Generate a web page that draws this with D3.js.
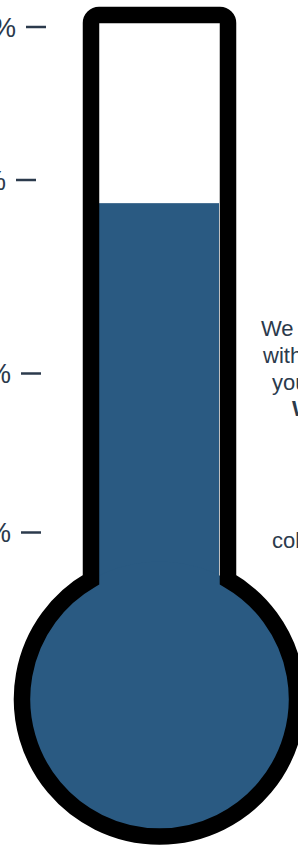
<!DOCTYPE html>
<html>
<head>
<meta charset="utf-8">
<script src="https://cdn.jsdelivr.net/npm/d3@7"></script>
<style>
  html, body { margin: 0; padding: 0; background: #fff; overflow: hidden; }
  svg { display: block; }
  .tick text { font-family: "Liberation Sans", Arial, sans-serif; font-size: 27px; fill: #2b3a4c; }
  .tick line { stroke: #2b3a4c; stroke-width: 2.5; }
  .note { font-family: "Liberation Sans", Arial, sans-serif; font-size: 22px; fill: #2b3a4c; }
</style>
</head>
<body>
<svg id="chart" width="298" height="848"></svg>
<script>
// Thermometer goal chart

const tickValues = [100, 75, 50, 25];
const raised = 72;            // percent of goal reached
const noteLines = ["We have reached", "with the help of", "you, our friends.", "Well done!", "collected so far"];
const noteBold = [false, false, false, true, false];

const width = 298, height = 848;
const svg = d3.select('#chart');

// piecewise scale so the ticks sit where they are on the poster
const y = d3.scaleLinear()
  .domain([25, 50, 75, 100])
  .range([532, 373, 180, 27]);

// tube + bulb geometry (stroke centerline)
const tubeL = 91, tubeR = 228, tubeTop = 15, corner = 8;
const bulbCx = 159.5, bulbCy = 699, bulbR = 137.5;
const stroke = 16.5;
const joinDy = Math.sqrt(bulbR * bulbR - (tubeL - bulbCx) * (tubeL - bulbCx));
const joinY = bulbCy - joinDy;

// mercury
svg.append('rect')
  .attr('x', tubeL)
  .attr('y', y(raised))
  .attr('width', 219 - tubeL)
  .attr('height', bulbCy - y(raised))
  .attr('fill', '#2a5a82');

svg.append('circle')
  .attr('cx', bulbCx)
  .attr('cy', bulbCy)
  .attr('r', bulbR)
  .attr('fill', '#2a5a82');

// outline
const p = d3.path();
p.moveTo(tubeL, joinY);
p.lineTo(tubeL, tubeTop + corner);
p.arcTo(tubeL, tubeTop, tubeL + corner, tubeTop, corner);
p.lineTo(tubeR - corner, tubeTop);
p.arcTo(tubeR, tubeTop, tubeR, tubeTop + corner, corner);
p.lineTo(tubeR, joinY);
const a0 = Math.atan2(joinY - bulbCy, tubeR - bulbCx);
const a1 = Math.atan2(joinY - bulbCy, tubeL - bulbCx);
p.arc(bulbCx, bulbCy, bulbR, a0, a1 + 2 * Math.PI, false);
p.closePath();

svg.append('path')
  .attr('d', p.toString())
  .attr('fill', 'none')
  .attr('stroke', '#000')
  .attr('stroke-width', stroke)
  .attr('stroke-linejoin', 'miter');

// percentage ticks on the left
const axis = svg.append('g')
  .attr('transform', 'translate(41,0)')
  .call(d3.axisLeft(y).tickValues(tickValues).tickSize(20).tickPadding(10).tickFormat(d => d + '%'));
axis.select('.domain').remove();
axis.selectAll('.tick text').attr('dy', '0.36em');
// hand nudges as on the original artwork
axis.selectAll('.tick').filter(d => d === 100).attr('transform', d => `translate(5,${y(d)})`);
axis.selectAll('.tick').filter(d => d === 75).attr('transform', d => `translate(-5,${y(d)})`);

// note text running off the right edge
const noteX = [261, 263, 272, 292, 272];
const noteY = [336, 363, 390, 416, 548];
svg.selectAll('text.note')
  .data(noteLines)
  .enter()
  .append('text')
  .attr('class', 'note')
  .attr('x', (d, i) => noteX[i])
  .attr('y', (d, i) => noteY[i])
  .attr('font-weight', (d, i) => noteBold[i] ? 'bold' : 'normal')
  .text(d => d);
</script>
</body>
</html>
